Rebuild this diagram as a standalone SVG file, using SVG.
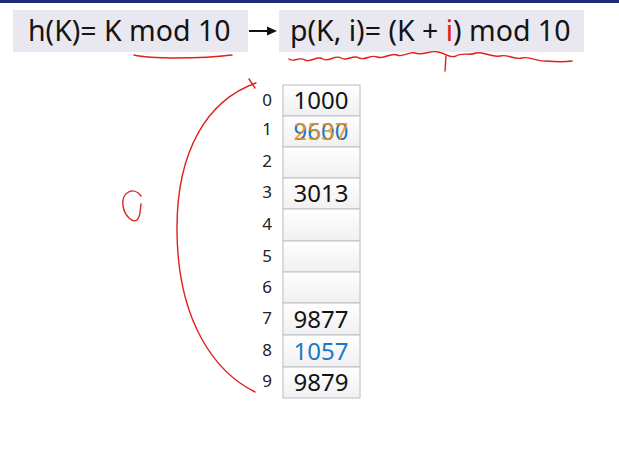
<svg xmlns="http://www.w3.org/2000/svg" width="619" height="455" viewBox="0 0 619 455">
<defs>
<linearGradient id="cellg" x1="0" y1="0" x2="0" y2="1">
<stop offset="0" stop-color="#ffffff"/>
<stop offset="1" stop-color="#f0f0f2"/>
</linearGradient>
</defs>
<style>
.hbox{fill:#e9e8f0}
.htxt{font-family:"Noto Sans","Open Sans",sans-serif;font-size:28.5px;fill:#141414}
.cell{fill:url(#cellg);stroke:#c4c6cc;stroke-width:1.2}
.idx{font-family:"Noto Sans","Open Sans",sans-serif;font-size:17px;fill:#222;text-anchor:middle}
.val{font-family:"Noto Sans","Open Sans",sans-serif;font-size:24px;fill:#141414;text-anchor:middle}
.ink{fill:none;stroke:#e0201a;stroke-width:1.4;stroke-linecap:round;stroke-linejoin:round}
</style>
<rect x="0" y="0" width="619" height="455" fill="#ffffff"/>
<rect x="0" y="0" width="619" height="3" fill="#1c2a78"/>

<g id="hash-func">
<rect class="hbox" x="13" y="10" width="235" height="42"/>
<text class="htxt" x="28" y="41">h(K)= K mod 10</text>
</g>
<g id="probe-func">
<rect class="hbox" x="279" y="10" width="305" height="42"/>
<text class="htxt" x="290" y="41">p(K, i)= (K + <tspan fill="#e0201a">i</tspan>) mod 10</text>
</g>

<g id="connectors">
<line x1="249" y1="31" x2="269" y2="31" stroke="#111" stroke-width="2"/>
<path d="M277 31 L267 26.5 L267 35.5 Z" fill="#111"/>
</g>

<g id="table">
<g id="slot0"><rect class="cell" x="283" y="85" width="77" height="31"/><text class="idx" x="267" y="106">0</text><text class="val" x="321" y="109">1000</text></g>
<g id="slot1"><rect class="cell" x="283" y="116" width="77" height="31"/><text class="idx" x="267" y="135">1</text><text class="val" x="321" y="140" style="fill:#1a78c8">9600</text><text class="val" x="321" y="140" style="fill:#e8901a;fill-opacity:0.85">2537</text></g>
<g id="slot2"><rect class="cell" x="283" y="147" width="77" height="31"/><text class="idx" x="267" y="167">2</text></g>
<g id="slot3"><rect class="cell" x="283" y="178" width="77" height="31"/><text class="idx" x="267" y="198">3</text><text class="val" x="321" y="202">3013</text></g>
<g id="slot4"><rect class="cell" x="283" y="209" width="77" height="32"/><text class="idx" x="267" y="230">4</text></g>
<g id="slot5"><rect class="cell" x="283" y="241" width="77" height="31"/><text class="idx" x="267" y="262">5</text></g>
<g id="slot6"><rect class="cell" x="283" y="272" width="77" height="31"/><text class="idx" x="267" y="293">6</text></g>
<g id="slot7"><rect class="cell" x="283" y="303" width="77" height="32"/><text class="idx" x="267" y="324">7</text><text class="val" x="321" y="328">9877</text></g>
<g id="slot8"><rect class="cell" x="283" y="335" width="77" height="32"/><text class="idx" x="267" y="356">8</text><text class="val" x="321" y="360" style="fill:#1a78c8">1057</text></g>
<g id="slot9"><rect class="cell" x="283" y="367" width="77" height="31"/><text class="idx" x="267" y="387">9</text><text class="val" x="321" y="391">9879</text></g>
</g>

<g id="annotations">
<path class="ink" d="M134 55 C 150 59, 200 59, 232 55"/>
<path class="ink" d="M289 59 C 294 63, 299 56, 305 60 C 311 63, 317 55, 323 59 C 329 63, 335 54, 341 58 C 347 62, 353 54, 359 58 C 365 61, 371 54, 377 57 C 383 60, 391 52, 397 55 C 403 58, 409 51, 415 53 C 423 56, 430 50, 438 52 C 446 53, 450 59, 456 56 C 462 52, 470 56, 476 53 C 484 51, 492 58, 500 56 C 508 54, 514 60, 522 58 C 530 56, 538 62, 546 61 C 556 62, 566 62, 572 61"/>
<path class="ink" d="M446 56 L 445 71"/>
<path class="ink" d="M255 392 C 215 372, 178 322, 177 232 C 176 150, 208 100, 256 83"/>
<path class="ink" d="M249 79 L 255 88"/>
<path class="ink" d="M141 196 C 134 186, 121 192, 123 206 C 125 217, 133 223, 137 220 C 141 216, 140 210, 141 204"/>
</g>
</svg>
